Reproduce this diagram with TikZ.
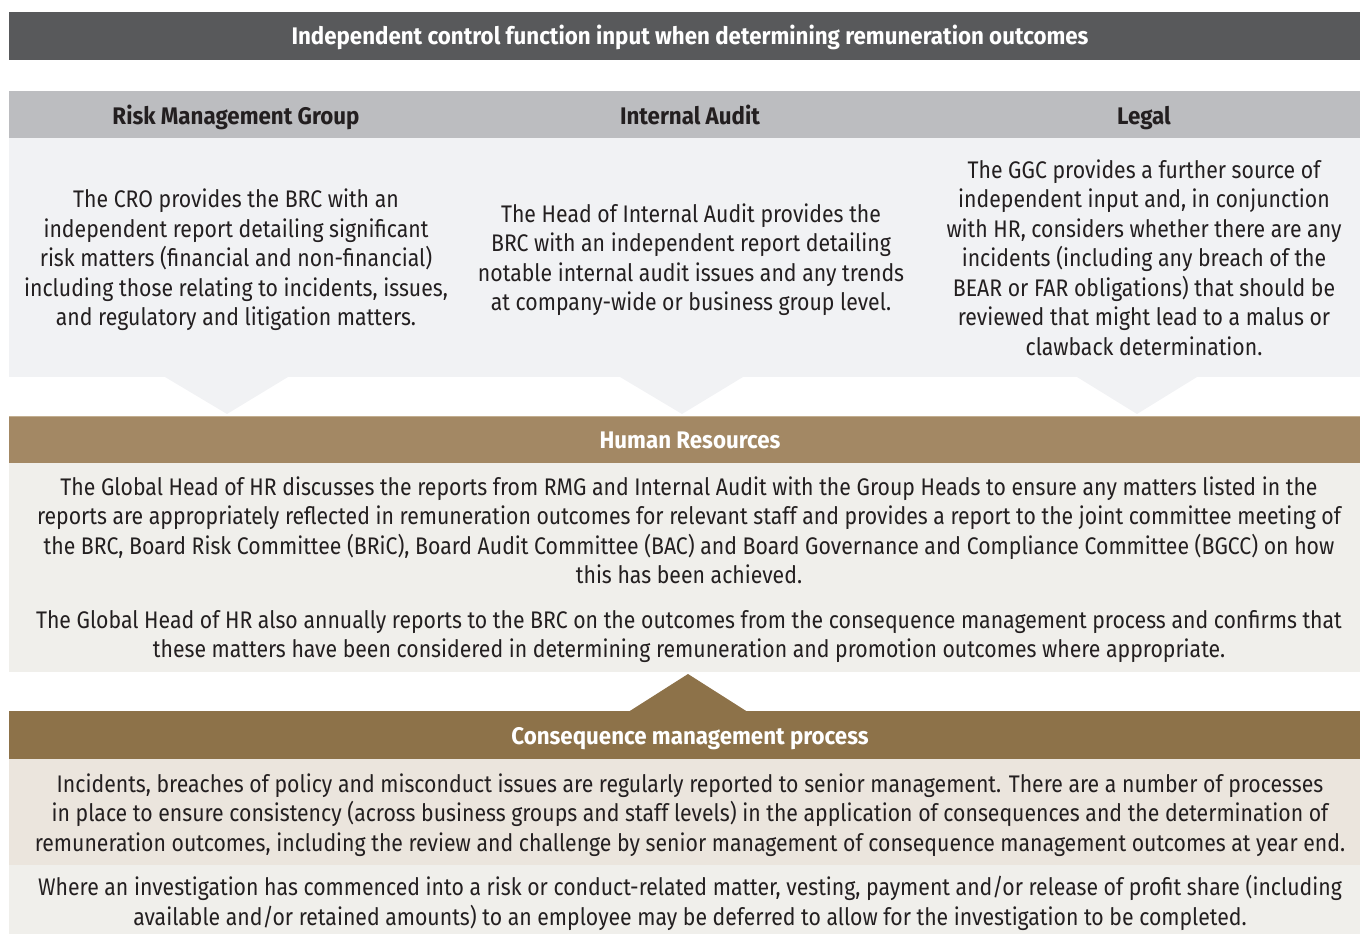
\documentclass[tikz,border=0pt]{standalone}
\usepackage{fontspec}
\setmainfont{Fira Sans}
\newfontfamily\bodyA[FakeStretch=0.885]{Fira Sans}
\newfontfamily\headf[FakeStretch=0.93]{Fira Sans}
\definecolor{titlegray}{HTML}{58595B}
\definecolor{headgray}{HTML}{BCBDC0}
\definecolor{lightbody}{HTML}{F1F2F4}
\definecolor{hrbrown}{HTML}{A38864}
\definecolor{hrline}{HTML}{C2AE90}
\definecolor{hrbody}{HTML}{F0EFEB}
\definecolor{cmpbrown}{HTML}{8D7249}
\definecolor{cmpbody}{HTML}{EBE5DD}
\definecolor{txt}{HTML}{231F20}
\begin{document}
\begin{tikzpicture}[x=0.75pt,y=-0.75pt,
  band/.style={anchor=north west, inner sep=0pt, outer sep=0pt, draw=none, minimum width=1013.25pt},
  headtxt/.style={anchor=base, inner sep=0pt, font=\headf\bfseries\fontsize{18}{22}\selectfont},
  bodytxt/.style={anchor=base, inner sep=0pt, align=center, text=txt, font=\bodyA\fontsize{18}{22.1}\selectfont}]
\useasboundingbox (0,0) rectangle (1360,934);
% bands
\node[band, fill=titlegray, minimum height=36pt] (title) at (9,12) {};
\node[band, fill=headgray, minimum height=35.25pt] (hdr) at (9,91) {};
\node[band, fill=lightbody, minimum height=179.25pt] (top) at (9,138) {};
\node[band, fill=hrbrown, minimum height=35.25pt] (hrhead) at (9,416) {};
\node[band, fill=hrbody, minimum height=156.75pt] (hrbody) at (9,463) {};
\node[band, fill=cmpbrown, minimum height=36pt] (cmphead) at (9,711) {};
\node[band, fill=cmpbody, minimum height=79.5pt] (cmpbody) at (9,759) {};
\node[band, fill=hrbody, minimum height=51.75pt] (cmpbodyb) at (9,865) {};
\draw[hrline, line width=0.75pt] (hrhead.north west) -- (hrhead.north east);
% pointers
\coordinate (t1) at (227,414);
\coordinate (t2) at (682,414);
\coordinate (t3) at (1137,414);
\coordinate (u1) at (688,674);
\fill[lightbody] (165,377) -- (t1) -- (288,377) -- cycle;
\fill[lightbody] (620,377) -- (t2) -- (743,377) -- cycle;
\fill[lightbody] (1077,377) -- (t3) -- (1197,377) -- cycle;
\fill[cmpbrown] (629,711.5) -- (u1) -- (747,711.5) -- cycle;
% texts
\node[headtxt, text=white] (titletxt) at (690,44.5) {Independent control function input when determining remuneration outcomes};
\node[headtxt, text=txt] (rmgh) at (236,124.5) {Risk Management Group};
\node[headtxt, text=txt] (iah) at (690,124.5) {Internal Audit};
\node[headtxt, text=txt] (legh) at (1144,124.5) {Legal};
\node[bodytxt] (rmgt) at (236,325.5) {The CRO provides the BRC with an\\independent report detailing significant\\risk matters (financial and non-financial)\\including those relating to incidents, issues,\\and regulatory and litigation matters.};
\node[bodytxt] (iat) at (691,310.5) {The Head of Internal Audit provides the\\BRC with an independent report detailing\\notable internal audit issues and any trends\\at company-wide or business group level.};
\node[bodytxt] (legt) at (1144,355) {The GGC provides a further source of\\independent input and, in conjunction\\with HR, considers whether there are any\\incidents (including any breach of the\\BEAR or FAR obligations) that should be\\reviewed that might lead to a malus or\\clawback determination.};
\node[headtxt, text=white] (hrh) at (690,448.5) {Human Resources};
\node[bodytxt] (hrt1) at (689,583.5) {The Global Head of HR discusses the reports from RMG and Internal Audit with the Group Heads to ensure any matters listed in the\\reports are appropriately reflected in remuneration outcomes for relevant staff and provides a report to the joint committee meeting of\\the BRC, Board Risk Committee (BRiC), Board Audit Committee (BAC) and Board Governance and Compliance Committee (BGCC) on how\\this has been achieved.};
\node[bodytxt] (hrt2) at (689,657.5) {The Global Head of HR also annually reports to the BRC on the outcomes from the consequence management process and confirms that\\these matters have been considered in determining remuneration and promotion outcomes where appropriate.};
\node[headtxt, text=white] (cmph) at (690,744.5) {Consequence management process};
\node[bodytxt] (cmpt1) at (690,851) {Incidents, breaches of policy and misconduct issues are regularly reported to senior management. There are a number of processes\\in place to ensure consistency (across business groups and staff levels) in the application of consequences and the determination of\\remuneration outcomes, including the review and challenge by senior management of consequence management outcomes at year end.};
\node[bodytxt] (cmpt2) at (690,925) {Where an investigation has commenced into a risk or conduct-related matter, vesting, payment and/or release of profit share (including\\available and/or retained amounts) to an employee may be deferred to allow for the investigation to be completed.};
\end{tikzpicture}
\end{document}
